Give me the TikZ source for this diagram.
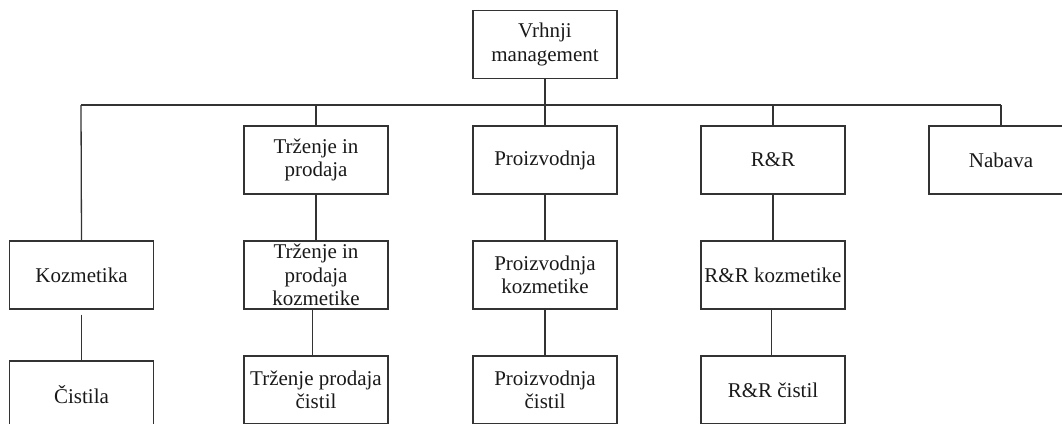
\documentclass[tikz,border=0pt]{standalone}
\usepackage{fontspec}
\setmainfont{Liberation Serif}
\begin{document}
\begin{tikzpicture}[x=1pt,y=-1pt,
  box/.style={draw=black!80,line width=1.3pt,rectangle,inner sep=0pt,align=center,
    minimum width=144pt,minimum height=68pt,text=black!90,
    font=\fontsize{21}{23.3}\selectfont},
  link/.style={draw=black!80,line width=1.3pt}]
\useasboundingbox (0,0) rectangle (1062,423);
\clip (0,0) rectangle (1062,423);
% top level
\node[box] (top) at (545,44.5) {Vrhnji\\management};
% first level
\node[box] (tip) at (316,160) {Trženje in\\prodaja};
\node[box] (pro) at (545,160) {Proizvodnja};
\node[box] (rr)  at (773,160) {R\&R};
\node[box] (nab) at (1001,160) {Nabava};
% second level
\node[box] (koz) at (81.5,275) {Kozmetika};
\node[box] (tipk) at (316,275) {Trženje in\\prodaja\\kozmetike};
\node[box] (prok) at (545,275) {Proizvodnja\\kozmetike};
\node[box] (rrk) at (773,275) {R\&R kozmetike};
% third level
\node[box] (cis) at (81.5,395) {Čistila};
\node[box] (tipc) at (316,390) {Trženje prodaja\\čistil};
\node[box] (proc) at (545,390) {Proizvodnja\\čistil};
\node[box] (rrc) at (773,390) {R\&R čistil};
% distribution bar
\coordinate (barL) at (81,105);
\coordinate (barR) at (1001,105);
\draw[link] (barL) -- (barR);
\draw[link] (top.south) -- (pro.north);
\draw[link] (barL) -- (koz.north);
\draw[link] (tip.north |- barL) -- (tip.north);
\draw[link] (rr.north |- barL) -- (rr.north);
\draw[link] (barR) -- (nab.north);
% vertical links
\draw[link] (tip.south) -- (tipk.north);
\draw[link] (pro.south) -- (prok.north);
\draw[link] (rr.south) -- (rrk.north);
\draw[link] ([yshift=-5pt]koz.south) -- (cis.north);
\draw[link] ([xshift=-3.5pt]tipk.south) -- ([xshift=-3.5pt]tipc.north);
\draw[link] (prok.south) -- (proc.north);
\draw[link] ([xshift=-1.5pt]rrk.south) -- ([xshift=-1.5pt]rrc.north);
\end{tikzpicture}
\end{document}
